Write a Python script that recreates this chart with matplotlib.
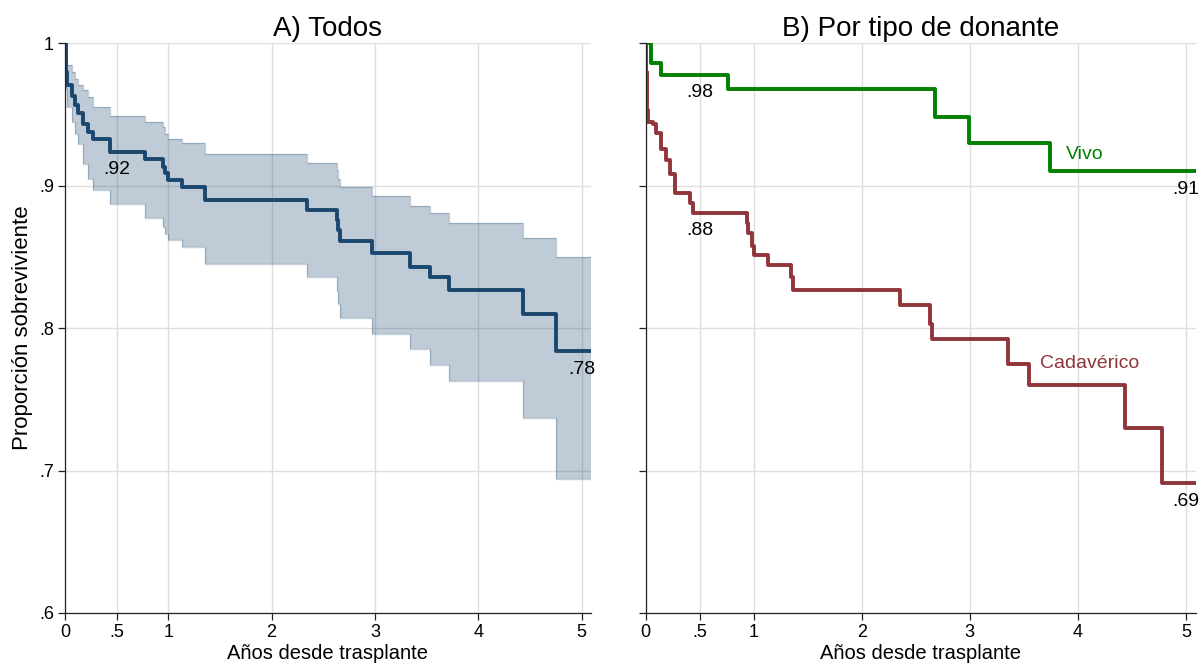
import numpy as np
import matplotlib
matplotlib.use("Agg")
import matplotlib.pyplot as plt

plt.rcParams['font.family'] = ['Liberation Sans', 'DejaVu Sans']

# --- Panel A: todos (Kaplan-Meier con IC 95%) ---
t_todos = [0, 0.005, 0.010, 0.016, 0.065, 0.097, 0.129, 0.177, 0.226, 0.274, 0.436,
           0.774, 0.950, 0.968, 0.997, 1.13, 1.355, 2.34, 2.63, 2.645, 2.66, 2.97,
           3.34, 3.53, 3.72, 4.43, 4.75, 5.09]
s_todos = [1.0, 0.990, 0.980, 0.971, 0.963, 0.957, 0.951, 0.943, 0.938, 0.933, 0.924,
           0.919, 0.913, 0.909, 0.904, 0.899, 0.890, 0.883, 0.876, 0.869, 0.861, 0.853,
           0.843, 0.836, 0.827, 0.810, 0.784, 0.784]
ic_sup = [1.0, 0.993, 0.988, 0.985, 0.980, 0.975, 0.971, 0.967, 0.962, 0.955, 0.949,
          0.945, 0.941, 0.936, 0.933, 0.930, 0.922, 0.916, 0.911, 0.905, 0.899, 0.893,
          0.886, 0.881, 0.874, 0.863, 0.850, 0.850]
ic_inf = [1.0, 0.982, 0.968, 0.955, 0.945, 0.936, 0.929, 0.915, 0.905, 0.897, 0.887,
          0.877, 0.871, 0.866, 0.862, 0.857, 0.845, 0.836, 0.826, 0.817, 0.807, 0.796,
          0.785, 0.774, 0.763, 0.737, 0.694, 0.694]

# --- Panel B: por tipo de donante ---
t_vivo = [0, 0.054, 0.14, 0.766, 2.68, 2.99, 3.74, 5.09]
s_vivo = [1.0, 0.986, 0.978, 0.968, 0.948, 0.930, 0.910, 0.910]

t_cad = [0, 0.003, 0.007, 0.010, 0.014, 0.018, 0.022, 0.07, 0.10, 0.146, 0.19, 0.224,
         0.27, 0.41, 0.44, 0.936, 0.951, 0.982, 1.004, 1.136, 1.343, 1.367, 2.354,
         2.632, 2.653, 3.356, 3.548, 4.44, 4.775, 5.09]
s_cad = [1.0, 0.99, 0.98, 0.97, 0.96, 0.953, 0.945, 0.943, 0.937, 0.926, 0.918, 0.908,
         0.895, 0.888, 0.881, 0.874, 0.867, 0.858, 0.851, 0.844, 0.836, 0.827, 0.816,
         0.803, 0.792, 0.775, 0.760, 0.730, 0.691, 0.691]

xticks = [0, 0.5, 1, 2, 3, 4, 5]
xticklabels = ["0", ".5", "1", "2", "3", "4", "5"]
yticks = [0.6, 0.7, 0.8, 0.9, 1.0]
yticklabels = [".6", ".7", ".8", ".9", "1"]
t_etiquetas = [0.5, 5.0]

NAVY = "#1a476f"
GREEN = "#008000"
MAROON = "#90353b"


def valor_en(t, s, x):
    i = np.searchsorted(t, x, side="right") - 1
    return s[i]


def etiqueta(ax, t, s, x):
    v = valor_en(t, s, x)
    txt = f"{v:.2f}".lstrip("0")
    ax.annotate(txt, (x, v), xytext=(0, -7), textcoords="offset points",
                ha="center", va="top", fontsize=14, color="black")


def estilo(ax, ylabels=True):
    ax.set_xlim(0, 5.09)
    ax.set_ylim(0.6, 1.0)
    ax.set_xticks(xticks)
    ax.set_xticklabels(xticklabels)
    ax.set_yticks(yticks)
    if ylabels:
        ax.set_yticklabels(yticklabels)
    else:
        ax.set_yticklabels([])
    ax.grid(True, color="#dedede", lw=1.0)
    ax.set_axisbelow(True)
    for sp in ["top", "right"]:
        ax.spines[sp].set_visible(False)
    for sp in ["left", "bottom"]:
        ax.spines[sp].set_color("#222222")
        ax.spines[sp].set_linewidth(0.9)
    ax.tick_params(direction="out", length=5, width=0.9, color="#222222",
                   labelsize=13, pad=3)
    ax.set_xlabel("Años desde trasplante", fontsize=14.5, labelpad=2)


fig = plt.figure(figsize=(12.03, 6.68), dpi=100)
axA = fig.add_axes([65 / 1203, 55.1 / 668, 525.8 / 1203, 569.6 / 668])
axB = fig.add_axes([645.5 / 1203, 55.1 / 668, 550.2 / 1203, 569.6 / 668])

# Panel A
estilo(axA)
axA.fill_between(t_todos, ic_inf, ic_sup, step="post", color=NAVY, alpha=0.28, lw=0)
axA.step(t_todos, ic_sup, where="post", color=NAVY, alpha=0.25, lw=1)
axA.step(t_todos, ic_inf, where="post", color=NAVY, alpha=0.25, lw=1)
axA.step(t_todos, s_todos, where="post", color=NAVY, lw=2.8)
for x in t_etiquetas:
    etiqueta(axA, t_todos, s_todos, x)
axA.set_ylabel("Proporción sobreviviente", fontsize=16, labelpad=4)
axA.set_title("A) Todos", fontsize=20, pad=5)

# Panel B
estilo(axB, ylabels=False)
axB.step(t_vivo, s_vivo, where="post", color=GREEN, lw=2.8)
axB.step(t_cad, s_cad, where="post", color=MAROON, lw=2.8)
for x in t_etiquetas:
    etiqueta(axB, t_vivo, s_vivo, x)
    etiqueta(axB, t_cad, s_cad, x)
axB.text(3.89, 0.9216, "Vivo", color=GREEN, fontsize=14, ha="left", va="center")
axB.text(3.65, 0.775, "Cadavérico", color=MAROON, fontsize=14, ha="left", va="center")
axB.set_title("B) Por tipo de donante", fontsize=20, pad=5)

fig.savefig("out.png", dpi=100)
